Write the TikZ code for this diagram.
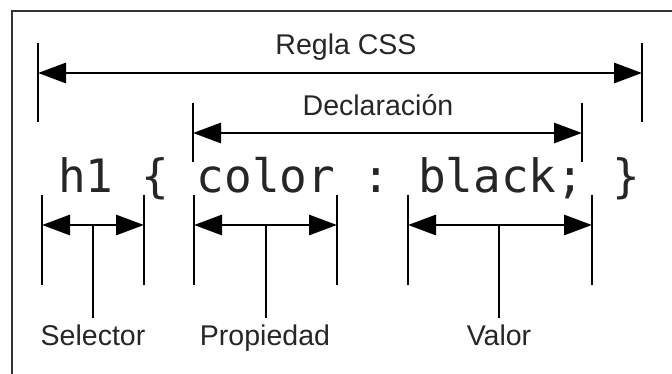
\documentclass[tikz,border=0pt]{standalone}
\usepackage{fontspec}
\setmainfont{Liberation Sans}
\setmonofont{DejaVu Sans Mono}
\usetikzlibrary{arrows.meta}

\begin{document}
\begin{tikzpicture}[x=0.75pt,y=-0.75pt,
		dim/.style={line width=2.2pt,{Triangle[length=21pt,width=15pt]}-{Triangle[length=21pt,width=15pt]}},
		bar/.style={line width=2.2pt},
		lbl/.style={font=\fontsize{21.4}{24}\selectfont,text=black!85,inner sep=0pt},
		part/.style={lbl,anchor=north,inner ysep=4.6pt},
	]
	\useasboundingbox (0,0) rectangle (672,374);
	% Draw frame
	\draw[line width=1.4pt,black!80] (12,374) -- (12,11) -- (672,11);

	% Draw code
	\node[font=\ttfamily\fontsize{34.5}{40}\selectfont,text=black!85,anchor=base,inner sep=0pt] (code) at (349,193) {h1 \{ color : black; \}};

	% Draw whole rule
	\coordinate (rl) at (38,73);
	\coordinate (rr) at (642,73);
	\draw[bar] (38,43) -- (38,122);
	\draw[bar] (642,43) -- (642,122);
	\draw[dim] (rl) -- (rr);
	\node[lbl,anchor=base] (regla) at (346,55) {Regla CSS};

	% Draw declaration
	\coordinate (dl) at (193,133);
	\coordinate (dr) at (582,133);
	\draw[bar] (193,103) -- (193,162);
	\draw[bar] (582,103) -- (582,162);
	\draw[dim] (dl) -- (dr);
	\node[lbl,anchor=base] (decl) at (378,116) {Declaración};

	% Draw bottom parts
	\draw[bar] (42,195) -- (42,285);
	\draw[bar] (144,195) -- (144,285);
	\draw[bar] (194,195) -- (194,285);
	\draw[bar] (337,195) -- (337,285);
	\draw[bar] (408,195) -- (408,285);
	\draw[bar] (592,195) -- (592,285);

	\coordinate (sl) at (42,225);
	\coordinate (sr) at (144,225);
	\coordinate (sm) at (93,225);
	\coordinate (pl) at (194,225);
	\coordinate (pr) at (337,225);
	\coordinate (pm) at (266,225);
	\coordinate (vl) at (408,225);
	\coordinate (vr) at (592,225);
	\coordinate (vm) at (499,225);

	\draw[dim] (sl) -- (sr);
	\draw[dim] (pl) -- (pr);
	\draw[dim] (vl) -- (vr);

	\node[part] (sel) at (93,318) {Selector};
	\node[part] (prop) at (265,318) {Propiedad};
	\node[part] (val) at (499,318) {Valor};

	% Draw stems
	\draw[bar] (sm) -- (sel);
	\draw[bar] (pm) -- (prop.north -| pm);
	\draw[bar] (vm) -- (val);
\end{tikzpicture}
\end{document}
